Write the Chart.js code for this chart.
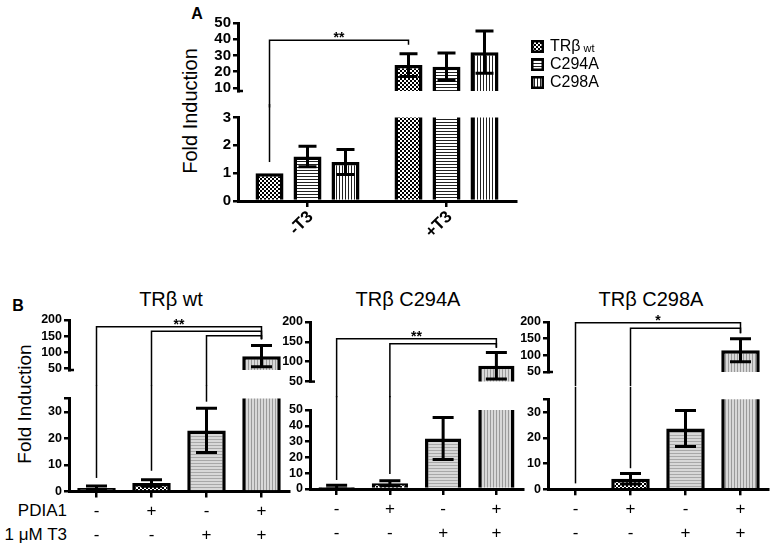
<!DOCTYPE html>
<html lang="en">
<head>
<meta charset="UTF-8">
<title>TRβ Fold Induction</title>
<script src="https://cdn.jsdelivr.net/npm/chart.js"></script>
<style>
    body { margin: 0; background: #fff; font-family: "Liberation Sans", Arial, Helvetica, sans-serif; }
    #fig { position: relative; width: 772px; height: 550px; overflow: hidden; background: #fff; }
    #fig canvas { position: absolute; }
    .txt { position: absolute; white-space: nowrap; color: #000; line-height: 1; transform: translate(-50%, -50%); }
    .rot { transform: translate(-50%, -50%) rotate(-90deg); }
    .right { transform: translate(-100%, -50%); }
    .letter { font-size: 16px; font-weight: bold; }
    .ytitle { font-size: 20px; }
    .ptitle { font-size: 20px; }
    .row { font-size: 17px; }
</style>
</head>
<body>
<div id="fig">
    <div class="txt letter" style="left:197px; top:14px;">A</div>
    <div class="txt ytitle rot" style="left:190px; top:111px;">Fold Induction</div>

    <div class="txt letter" style="left:18px; top:306px;">B</div>
    <div class="txt ytitle rot" style="left:24px; top:404px; font-size:19px;">Fold Induction</div>
    <div class="txt ptitle" style="left:171px; top:299px;">TRβ wt</div>
    <div class="txt ptitle" style="left:408px; top:299px;">TRβ C294A</div>
    <div class="txt ptitle" style="left:651px; top:299px;">TRβ C298A</div>
    <div class="txt row right" style="left:67px; top:510px;">PDIA1</div>
    <div class="txt row right" style="left:67px; top:534px;">1 μM T3</div>
</div>

<script>
    // ---- panel A data: -T3 / +T3 for the three receptors ----
    const groupsA = ['-T3', '+T3'];
    const seriesA = ['TRβ wt', 'C294A', 'C298A'];
    const wtA = [1.0, 24];
    const wtErrA = [0, 7];
    const c294aA = [1.6, 23];
    const c294aErrA = [0.37, 8.5];
    const c298aA = [1.4, 32];
    const c298aErrA = [0.45, 13];
    const upperTicksA = [10, 20, 30, 40, 50];
    const lowerTicksA = [0, 1, 2, 3];
    // significance brackets: [category, dataset], level and where each leg stops
    const sigA = [{ a: [0, 0], b: [1, 0], level: 39.3, endA: 1.4, endB: 36.6, label: '**' }];

    // ---- panel B data: PDIA1 / T3 conditions ----
    const conditionsB = [['-', '-'], ['+', '-'], ['-', '+'], ['+', '+']];
    const wtB = [1.3, 3.2, 23, 88];
    const wtErrB = [0.8, 1.2, 8.3, 33];
    const c294aB = [1.2, 3.6, 32, 90];
    const c294aErrB = [1.2, 1.6, 13.3, 33.5];
    const c298aB = [0.5, 4.1, 23.6, 115];
    const c298aErrB = [0, 2, 7, 34.5];
    const upperTicksB = [50, 100, 150, 200];
    const lowerTicksB35 = [0, 10, 20, 30, 35];
    const lowerTicksB50 = [0, 10, 20, 30, 40, 50];
    const sigB1 = [
        { a: [0, 0], b: [3, 0], level: 179, endA: 5.1, endB: 140, label: '**' },
        { a: [1, 0], b: [3, 0], level: 165, endA: 7.8, endB: 140 },
        { a: [2, 0], b: [3, 0], level: 151, endA: 33.8, endB: 140 }
    ];
    const sigB2 = [
        { a: [0, 0], b: [3, 0], level: 158, endA: 5.7, endB: 135, label: '**' },
        { a: [1, 0], b: [3, 0], level: 145, endA: 9.5, endB: 135 }
    ];
    const sigB3 = [
        { a: [0, 0], b: [3, 0], level: 198, endA: 2.3, endB: 166, label: '*' },
        { a: [1, 0], b: [3, 0], level: 181, endA: 8.2, endB: 166 }
    ];

    const FONT = '"Liberation Sans", Arial, Helvetica, sans-serif';
    Chart.defaults.font.family = FONT;
    Chart.defaults.color = '#000';
    Chart.defaults.animation = false;

    // little hatch / checker fills like the GraphPad bars
    function pattern(kind, fg, bg, cell) {
        const c = document.createElement('canvas');
        const ctx = c.getContext('2d');
        if (kind === 'check') {
            c.width = c.height = cell * 2;
            ctx.fillStyle = bg; ctx.fillRect(0, 0, cell * 2, cell * 2);
            ctx.fillStyle = fg; ctx.fillRect(0, 0, cell, cell); ctx.fillRect(cell, cell, cell, cell);
        } else if (kind === 'h') {
            c.width = 1; c.height = cell;
            ctx.fillStyle = bg; ctx.fillRect(0, 0, 1, cell);
            ctx.fillStyle = fg; ctx.fillRect(0, 0, 1, 1);
        } else {
            c.width = cell; c.height = 1;
            ctx.fillStyle = bg; ctx.fillRect(0, 0, cell, 1);
            ctx.fillStyle = fg; ctx.fillRect(0, 0, 1, 1);
        }
        return c.getContext('2d').createPattern(c, 'repeat');
    }

    const fillsA = [pattern('check', '#000', '#fff', 2), pattern('h', '#222', '#fff', 3), pattern('v', '#222', '#fff', 3)];
    const fillsB = ['#111', pattern('check', '#000', '#fff', 2), pattern('h', '#a8a8a8', '#d8d8d8', 3), pattern('v', '#9a9a9a', '#d8d8d8', 3)];

    const errorBars = {
        id: 'errorBars',
        afterDatasetsDraw(chart, args, opts) {
            const ctx = chart.ctx, area = chart.chartArea, y = chart.scales.y;
            ctx.save();
            ctx.beginPath();
            ctx.rect(area.left, area.top, area.right - area.left, area.bottom - area.top);
            ctx.clip();
            ctx.strokeStyle = '#000';
            ctx.lineWidth = 3;
            chart.data.datasets.forEach((ds, i) => {
                chart.getDatasetMeta(i).data.forEach((bar, j) => {
                    const sd = ds.errors[j];
                    if (!sd) return;
                    const top = y.getPixelForValue(ds.data[j] + sd);
                    const bot = y.getPixelForValue(ds.data[j] - sd);
                    const h = opts.cap / 2;
                    ctx.beginPath();
                    ctx.moveTo(bar.x, top); ctx.lineTo(bar.x, bot);
                    ctx.moveTo(bar.x - h, top); ctx.lineTo(bar.x + h, top);
                    ctx.moveTo(bar.x - h, bot); ctx.lineTo(bar.x + h, bot);
                    ctx.stroke();
                });
            });
            ctx.restore();
        }
    };

    // brackets cross the axis break, so each segment draws its own part
    const brackets = {
        id: 'brackets',
        afterDraw(chart, args, opts) {
            const ctx = chart.ctx, area = chart.chartArea, y = chart.scales.y;
            ctx.save();
            ctx.strokeStyle = '#000';
            ctx.fillStyle = '#000';
            // small foot where the upper segment of the axis stops
            if (opts.role === 'upper') {
                ctx.lineWidth = 2.5;
                ctx.beginPath();
                ctx.moveTo(area.left - 1, area.bottom);
                ctx.lineTo(area.left + 5, area.bottom);
                ctx.stroke();
            }
            if (!opts.items) { ctx.restore(); return; }
            const xOf = p => chart.getDatasetMeta(p[1]).data[p[0]].x;
            ctx.lineWidth = 1.5;
            opts.items.forEach(b => {
                const xa = xOf(b.a), xb = xOf(b.b);
                const legs = [[xa, b.endA], [xb, b.endB]];
                ctx.beginPath();
                if (opts.role === 'upper') {
                    const yl = y.getPixelForValue(b.level);
                    const foot = v => v >= y.min ? y.getPixelForValue(v) : area.bottom + opts.gap;
                    ctx.moveTo(xa, foot(b.endA));
                    ctx.lineTo(xa, yl);
                    ctx.lineTo(xb, yl);
                    ctx.lineTo(xb, foot(b.endB));
                    ctx.stroke();
                    if (b.label) {
                        ctx.font = 'bold 14px ' + FONT;
                        ctx.textAlign = 'center';
                        ctx.textBaseline = 'alphabetic';
                        ctx.fillText(b.label, (xa + xb) / 2, yl + 2);
                    }
                } else {
                    legs.forEach(([x, end]) => {
                        if (end > y.max) return;
                        ctx.moveTo(x, area.top - opts.gap);
                        ctx.lineTo(x, y.getPixelForValue(end));
                    });
                    ctx.stroke();
                }
            });
            ctx.restore();
        }
    };

    const patternLegend = {
        id: 'patternLegend',
        afterDraw(chart, args, opts) {
            if (opts.x === undefined) return;
            const ctx = chart.ctx;
            ctx.save();
            chart.data.datasets.forEach((ds, i) => {
                const top = opts.y + i * opts.step, box = opts.box;
                ctx.fillStyle = ds.backgroundColor;
                ctx.fillRect(opts.x, top, box, box);
                ctx.strokeStyle = '#000';
                ctx.lineWidth = 2.5;
                ctx.strokeRect(opts.x + 1.25, top + 1.25, box - 2.5, box - 2.5);
                const parts = ds.label.split(' ');
                ctx.fillStyle = '#000';
                ctx.textAlign = 'left';
                ctx.textBaseline = 'middle';
                ctx.font = '16px ' + FONT;
                const tx = opts.x + box + 6;
                ctx.fillText(parts[0], tx, top + box / 2);
                if (parts[1]) {
                    const w = ctx.measureText(parts[0]).width;
                    ctx.font = '11px ' + FONT;
                    ctx.fillText(parts[1], tx + w + 3, top + box / 2 + 2);
                }
            });
            ctx.restore();
        }
    };

    Chart.register(errorBars, brackets, patternLegend);

    const fig = document.getElementById('fig');

    // one chart per axis segment; box = canvas [l,t,r,b], area = plot area [l,t,r,b] in page pixels
    function segment(c) {
        const cv = document.createElement('canvas');
        const w = c.box[2] - c.box[0], h = c.box[3] - c.box[1];
        cv.width = w; cv.height = h;
        cv.style.left = c.box[0] + 'px'; cv.style.top = c.box[1] + 'px';
        cv.style.width = w + 'px'; cv.style.height = h + 'px';
        fig.appendChild(cv);
        const lower = c.role === 'lower';
        const legend = c.legend ? { x: c.legend.x - c.box[0], y: c.legend.y - c.box[1], step: c.legend.step, box: c.legend.box } : {};
        return new Chart(cv, {
            type: 'bar',
            data: {
                labels: c.labels,
                datasets: c.series.map(s => ({
                    label: s.label,
                    data: s.data,
                    errors: s.errors,
                    backgroundColor: s.fill,
                    borderColor: '#000',
                    borderWidth: 3.5,
                    borderSkipped: 'start',
                    clip: 0,
                    categoryPercentage: c.catPct,
                    barPercentage: c.barPct
                }))
            },
            options: {
                responsive: false,
                animation: false,
                events: [],
                layout: {
                    padding: {
                        left: 0,
                        top: c.area[1] - c.box[1],
                        right: c.box[2] - c.area[2],
                        bottom: lower ? 0 : c.box[3] - c.area[3]
                    }
                },
                plugins: {
                    legend: { display: false },
                    tooltip: { enabled: false },
                    errorBars: { cap: c.cap },
                    brackets: { items: c.sig, role: c.role, gap: c.gap },
                    patternLegend: legend
                },
                scales: {
                    x: {
                        display: lower,
                        z: 1,
                        offset: true,
                        grid: { display: true, drawOnChartArea: false, drawTicks: true, tickLength: 6, offset: false, color: '#000', lineWidth: 2.5 },
                        border: { display: true, color: '#000', width: 3 },
                        ticks: c.xTicks,
                        afterFit: s => { s.height = c.box[3] - c.area[3]; }
                    },
                    y: {
                        min: c.min,
                        max: c.max,
                        afterBuildTicks: s => { s.ticks = c.yTicks.map(v => ({ value: v })); },
                        ticks: {
                            font: { size: c.yFont, weight: 'bold', lineHeight: 1 },
                            padding: 2,
                            autoSkip: false,
                            callback: v => (c.hidden || []).includes(v) ? '' : v
                        },
                        grid: { display: true, drawOnChartArea: false, drawTicks: true, tickLength: 5, color: '#000', lineWidth: 2.5 },
                        border: { display: true, color: '#000', width: 3 },
                        afterFit: s => { s.width = c.area[0] - c.box[0]; }
                    }
                }
            }
        });
    }

    // ---- panel A ----
    const seriesDataA = [
        { label: seriesA[0], data: wtA, errors: wtErrA, fill: fillsA[0] },
        { label: seriesA[1], data: c294aA, errors: c294aErrA, fill: fillsA[1] },
        { label: seriesA[2], data: c298aA, errors: c298aErrA, fill: fillsA[2] }
    ];
    const xTicksA = { font: { size: 17, weight: 'bold' }, minRotation: 45, maxRotation: 45, padding: 0, labelOffset: 3, autoSkip: false };
    segment({
        role: 'upper', box: [150, 0, 640, 111], area: [238, 23, 516, 101], gap: 16.5,
        min: 8, max: 50, yTicks: upperTicksA, yFont: 15,
        labels: groupsA, series: seriesDataA, catPct: 0.82, barPct: 0.737, cap: 18,
        sig: sigA, legend: { x: 531, y: 40, step: 18, box: 13 }
    });
    segment({
        role: 'lower', box: [150, 104, 530, 255], area: [238, 117.5, 516, 201], gap: 16.5,
        min: 0, max: 3, yTicks: lowerTicksA, yFont: 15,
        labels: groupsA, series: seriesDataA, catPct: 0.82, barPct: 0.737, cap: 18,
        sig: sigA, xTicks: xTicksA
    });

    // ---- panel B ----
    const xTicksB = { font: { size: 17, lineHeight: 24 / 17 }, maxRotation: 0, padding: 2, autoSkip: false };
    function panelB(values, errors, boxes, lowerMax, lowerTicks, hidden, upperMin, sig, barPct) {
        const series = [{ label: 'fold', data: values, errors: errors, fill: fillsB }];
        const common = { labels: conditionsB, series: series, catPct: 1, barPct: barPct, cap: 21, yFont: 12.5, sig: sig };
        segment(Object.assign({}, common, {
            role: 'upper', box: boxes.ub, area: boxes.ua, gap: boxes.la[1] - boxes.ua[3],
            min: upperMin, max: 200, yTicks: upperTicksB
        }));
        segment(Object.assign({}, common, {
            role: 'lower', box: boxes.lb, area: boxes.la, gap: boxes.la[1] - boxes.ua[3],
            min: 0, max: lowerMax, yTicks: lowerTicks, hidden: hidden, xTicks: xTicksB
        }));
    }

    panelB(wtB, wtErrB, {
        ub: [20, 306, 300, 396], ua: [69, 320, 289, 383],
        lb: [20, 385, 300, 550], la: [69, 398.5, 289, 491.5]
    }, 35, lowerTicksB35, [35], 45, sigB1, 0.7);

    panelB(c294aB, c294aErrB, {
        ub: [262, 306, 530, 407], ua: [310, 322, 523, 394.3],
        lb: [262, 396, 530, 550], la: [310, 410, 523, 489]
    }, 50, lowerTicksB50, [], 50, sigB2, 0.68);

    panelB(c298aB, c298aErrB, {
        ub: [500, 306, 772, 398], ua: [548, 322, 768, 385],
        lb: [500, 387, 772, 550], la: [548, 399.3, 768, 489.3]
    }, 35, lowerTicksB35, [35], 50, sigB3, 0.7);
</script>
</body>
</html>
